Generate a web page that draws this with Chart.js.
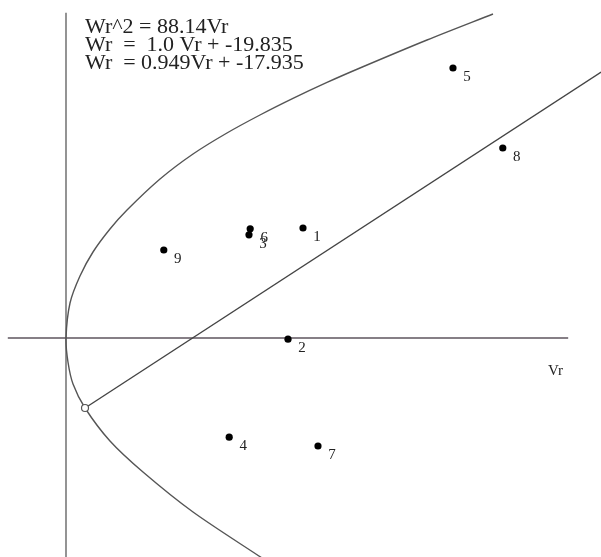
<!DOCTYPE html>
<html>
<head>
<meta charset="utf-8">
<script src="https://cdn.jsdelivr.net/npm/chart.js@4.4.1/dist/chart.umd.min.js"></script>
<style>
  html, body { margin: 0; padding: 0; background: #fff; }
  canvas { display: block; }
</style>
</head>
<body>
<canvas id="chart" width="601" height="557"></canvas>
<script>
// numbered observations (Vr, Wr)
const pointIds = ['1', '2', '3', '4', '5', '6', '7', '8', '9']
const pointVr = [39.5, 37.0, 30.5, 27.2, 64.5, 30.7, 42.0, 72.8, 16.3]
const pointWr = [27.5, -0.3, 25.8, -24.8, 67.5, 27.3, -27.0, 47.5, 22.0]

// Wr^2 = 88.14Vr
const parabolaVr = [71.17, 60.17, 49.0, 43.5, 37.83, 32.33, 26.83, 21.17, 15.67, 10.17, 7.33, 4.5, 2.33, 0.67, 0, 0.33, 1.17, 3.17, 7.33, 12.83, 21.17, 32.67]
const parabolaWr = [81.0, 74.5, 67.5, 63.9, 59.9, 55.75, 51.25, 46.0, 39.75, 32.0, 27.25, 21.5, 15.5, 8.75, 0, -6.0, -11.5, -17.5, -25.75, -33.5, -43.5, -55.0]

// regression line, from the open point on the parabola to the edge
const lineVr = [3.17, 89.2]
const lineWr = [-17.5, 66.5]
const tangentVr = [3.17]
const tangentWr = [-17.5]

// axes through the origin
const hAxisVr = [-9.7, 83.7]
const hAxisWr = [0, 0]
const vAxisVr = [0, 0]
const vAxisWr = [81.3, -55.0]

const equations = [
  'Wr^2 = 88.14Vr',
  'Wr  =  1.0 Vr + -19.835',
  'Wr  = 0.949Vr + -17.935',
]
const axisTitle = 'Vr'

const toXY = (xs, ys) => xs.map((v, i) => ({ x: v, y: ys[i] }))

const labelPlugin = {
  id: 'pointLabels',
  afterDatasetsDraw(chart) {
    const { ctx, scales: { x, y } } = chart
    ctx.save()
    ctx.fillStyle = '#222'
    ctx.font = '15px "Liberation Serif"'
    ctx.textAlign = 'center'
    ctx.textBaseline = 'middle'
    pointIds.forEach((id, i) => {
      ctx.fillText(id, x.getPixelForValue(pointVr[i]) + 14, y.getPixelForValue(pointWr[i]) + 9)
    })

    ctx.textAlign = 'left'
    ctx.textBaseline = 'alphabetic'
    ctx.font = '15px "Liberation Serif"'
    ctx.fillText(axisTitle, 548, 375)

    ctx.font = '22px "Liberation Serif"'
    equations.forEach((text, i) => {
      ctx.fillText(text, 85, 33 + i * 18)
    })
    ctx.restore()
  },
}

const lineStyle = (color, width) => ({
  showLine: true,
  borderColor: color,
  borderWidth: width,
  pointRadius: 0,
  fill: false,
})

const ctx = document.getElementById('chart').getContext('2d')
new Chart(ctx, {
  type: 'scatter',
  data: {
    datasets: [
      { ...lineStyle('#5e545e', 1.4), data: toXY(hAxisVr, hAxisWr), order: 5 },
      { ...lineStyle('#666', 1.4), data: toXY(vAxisVr, vAxisWr), order: 5 },
      { ...lineStyle('#555', 1.4), data: toXY(parabolaVr, parabolaWr), tension: 0.3, order: 4 },
      { ...lineStyle('#444', 1.4), data: toXY(lineVr, lineWr), order: 3 },
      {
        data: toXY(pointVr, pointWr),
        pointRadius: 3.6,
        pointBackgroundColor: '#000',
        pointBorderColor: '#000',
        pointBorderWidth: 0,
        order: 1,
      },
      {
        data: toXY(tangentVr, tangentWr),
        pointRadius: 3.5,
        pointBackgroundColor: '#fff',
        pointBorderColor: '#555',
        pointBorderWidth: 1.2,
        order: 2,
      },
    ],
  },
  options: {
    responsive: false,
    animation: false,
    devicePixelRatio: 1,
    layout: { padding: 0, autoPadding: false },
    scales: {
      x: { type: 'linear', min: -11, max: 89.17, display: false },
      y: { type: 'linear', min: -54.75, max: 84.5, display: false },
    },
    plugins: {
      legend: { display: false },
      tooltip: { enabled: false },
    },
  },
  plugins: [labelPlugin],
})
</script>
</body>
</html>
